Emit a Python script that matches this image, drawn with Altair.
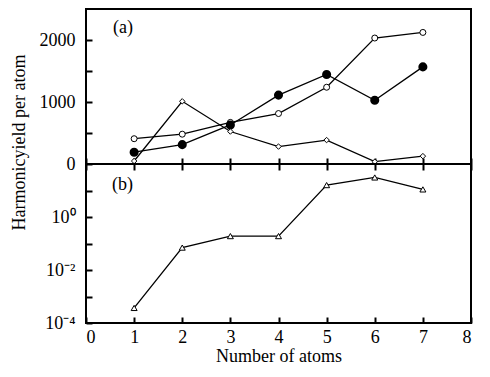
import altair as alt
import pandas as pd

atoms = [1, 2, 3, 4, 5, 6, 7]
open_circle = [408, 481, 671, 814, 1238, 2032, 2122]
filled_circle = [190, 312, 630, 1111, 1444, 1027, 1566]
diamond = [48, 1011, 524, 281, 386, 37, 127]
yield_b = [3.7e-4, 0.07, 0.19, 0.19, 16, 31, 11]

x_ticks = [0, 1, 2, 3, 4, 5, 6, 7, 8]
ya_ticks = [0, 500, 1000, 1500, 2000]
yb_ticks = [1e-4, 1e-3, 1e-2, 1e-1, 1e0, 1e1]

FONT = "Liberation Serif"
FS = 18
W, HA, HB = 385, 155, 159

df_a = pd.DataFrame({
    "atoms": atoms * 3,
    "value": open_circle + filled_circle + diamond,
    "series": ["open"] * 7 + ["filled"] * 7 + ["diamond"] * 7,
})
df_b = pd.DataFrame({"atoms": atoms, "value": yield_b})

common = dict(domain=False, grid=False, tickWidth=2, tickColor="black",
              labelFont=FONT, labelFontSize=FS, labelColor="black",
              titleFont=FONT, titleFontSize=FS, titleColor="black", titleFontWeight="normal")

xa = alt.X("atoms:Q", scale=alt.Scale(domain=[0, 8], nice=False),
           axis=alt.Axis(values=x_ticks, labels=False, tickSize=12, offset=-6,
                         title=None, **common))
ya = alt.Y("value:Q", scale=alt.Scale(domain=[0, 2500], nice=False),
           axis=alt.Axis(values=ya_ticks, tickSize=6, offset=-6, labelPadding=11, format="d",
                         labelExpr="datum.value % 1000 == 0 ? datum.label : ''",
                         title="Harmonicyield per atom", titleY=133, titleX=-73,
                         titleAlign="center", titleBaseline="middle", **common))

base_a = alt.Chart(df_a)
line_a = base_a.mark_line(color="black", strokeWidth=1.3).encode(x=xa, y=ya, detail="series:N")
pt_open = base_a.transform_filter("datum.series == 'open'").mark_point(
    shape="circle", filled=True, fill="white", stroke="black", strokeWidth=1, size=36, opacity=1
).encode(x=xa, y=ya)
pt_filled = base_a.transform_filter("datum.series == 'filled'").mark_point(
    shape="circle", filled=True, fill="black", stroke="black", size=50, opacity=1
).encode(x=xa, y=ya)
pt_diam = base_a.transform_filter("datum.series == 'diamond'").mark_point(
    shape="diamond", filled=True, fill="white", stroke="black", strokeWidth=1, size=30, opacity=1
).encode(x=xa, y=ya)
label_a = alt.Chart(pd.DataFrame({"t": ["(a)"]})).mark_text(
    font=FONT, fontSize=FS, align="left", baseline="middle", color="black"
).encode(text="t:N", x=alt.value(27), y=alt.value(19))

top = alt.layer(line_a, pt_open, pt_filled, pt_diam, label_a).properties(width=W, height=HA)

xb = alt.X("atoms:Q", scale=alt.Scale(domain=[0, 8], nice=False),
           axis=alt.Axis(values=x_ticks, tickSize=6, offset=-6, labelPadding=5,
                         title="Number of atoms", titlePadding=1, **common))
yb = alt.Y("value:Q", scale=alt.Scale(type="log", domain=[1e-4, 1e2], nice=False),
           axis=alt.Axis(values=yb_ticks, tickSize=6, offset=-6, labelPadding=11,
                         labelExpr="round(log(datum.value)/LN10) == 0 ? '10⁰' : round(log(datum.value)/LN10) == -2 ? '10⁻²' : round(log(datum.value)/LN10) == -4 ? '10⁻⁴' : ''",
                         title=None, **common))
base_b = alt.Chart(df_b)
line_b = base_b.mark_line(color="black", strokeWidth=1.3).encode(x=xb, y=yb)
pt_b = base_b.mark_point(shape="triangle-up", filled=True, fill="white", stroke="black",
                         strokeWidth=1, size=36, opacity=1).encode(x=xb, y=yb)
label_b = alt.Chart(pd.DataFrame({"t": ["(b)"]})).mark_text(
    font=FONT, fontSize=FS, align="left", baseline="middle", color="black"
).encode(text="t:N", x=alt.value(26), y=alt.value(21))

bottom = alt.layer(line_b, pt_b, label_b).properties(width=W, height=HB)

chart = alt.vconcat(top, bottom, spacing=0, bounds="flush").properties(
    padding={"left": 0, "top": 0, "right": 0, "bottom": 0}
).configure_view(stroke="black", strokeWidth=2).configure_axis(
    labelFont=FONT, titleFont=FONT
)

chart.save("out.html", embed_options={"renderer": "svg", "actions": False})
